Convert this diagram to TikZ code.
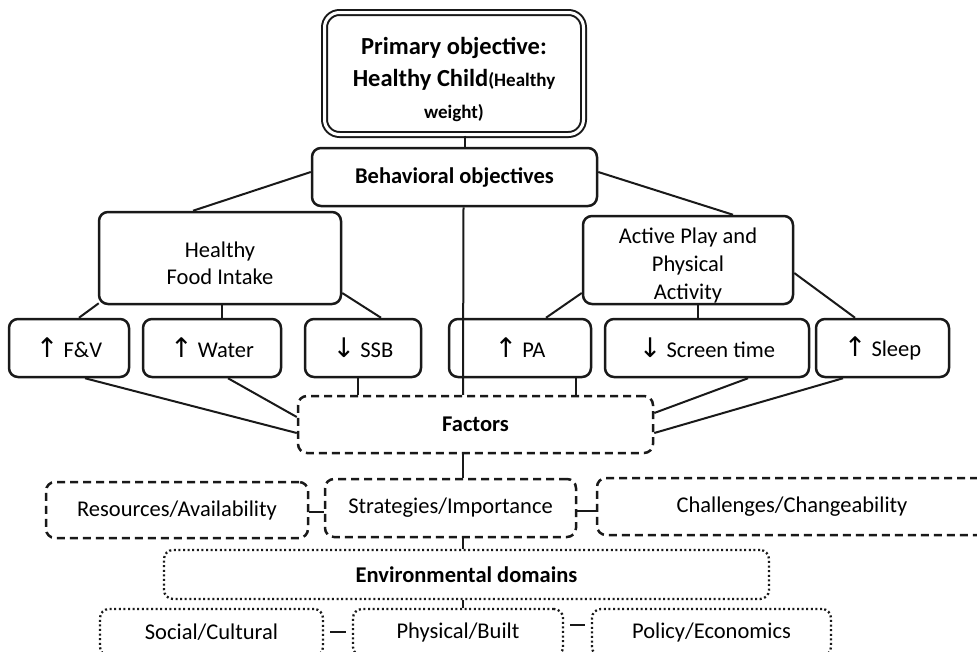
\documentclass[tikz,border=0pt]{standalone}
\usepackage{fontspec}
\setmainfont{Carlito}
\newfontfamily\arrowfont{DejaVu Sans}
\usetikzlibrary{calc}
\newcommand\myup{{\arrowfont\fontsize{27}{24}\selectfont ↑}}
\newcommand\mydown{{\arrowfont\fontsize{27}{24}\selectfont ↓}}
\tikzset{
  box/.style={draw=black!90, line width=2.5pt, rounded corners=9pt, inner sep=0pt, align=center,
    font=\fontsize{22.5}{27}\selectfont},
  dashbox/.style={box, dash pattern=on 8pt off 5pt},
  dotbox/.style={box, line width=2.3pt, dash pattern=on 2pt off 2.6pt},
  conn/.style={draw=black!90, line width=2pt},
  bold20/.style={font=\fontsize{22.5}{27}\selectfont\bfseries},
}
\begin{document}
\begin{tikzpicture}[x=1pt,y=-1pt]
\useasboundingbox (0,0) rectangle (977,651);
% primary
\node[box, double, double distance=3pt, line width=2pt, rounded corners=15pt,
  minimum width=259pt, minimum height=122pt,
  label={[name=primt, align=center, yshift=-6pt, font=\fontsize{24.5}{32}\selectfont\bfseries]center:{Primary objective:\\ Healthy Child{\fontsize{19}{28}\selectfont(Healthy}\\ {\fontsize{19}{20}\selectfont weight)}}}]
  (prim) at (454,73.5) {};
\node[box, bold20, minimum width=285pt, minimum height=58pt] (beh) at (454.5,177) {Behavioral objectives};
\node[box, minimum width=242pt, minimum height=92pt,
  label={[name=hfit, align=center, yshift=-5pt, font=\fontsize{22.5}{27}\selectfont]center:{Healthy\\ Food Intake}}]
  (hfi) at (220,258) {};
\node[box, minimum width=210pt, minimum height=88pt,
  label={[name=apat, align=center, yshift=-5pt, font=\fontsize{22.5}{28}\selectfont]center:{Active Play and\\ Physical\\ Activity}}]
  (apa) at (688,260) {};
% behaviours
\node[box, minimum width=120pt, minimum height=58pt] (fv) at (69,348) {\myup\ F\&V};
\node[box, minimum width=138pt, minimum height=58pt] (water) at (212,348) {\myup\ Water};
\node[box, minimum width=116pt, minimum height=58pt] (ssb) at (363,348) {\mydown\ SSB};
\node[box, minimum width=142pt, minimum height=58pt] (pa) at (520,348) {\myup\ PA};
\node[box, minimum width=204pt, minimum height=58pt] (screen) at (707,348) {\mydown\ Screen time};
\node[box, minimum width=133pt, minimum height=58pt] (sleep) at (882.5,348) {\myup\ Sleep};
% factors
\node[dashbox, bold20, minimum width=355pt, minimum height=57pt] (fac) at (475.5,424.5) {Factors};
\node[dashbox, minimum width=262pt, minimum height=56pt] (res) at (177,510) {Resources/Availability};
\node[dashbox, minimum width=251pt, minimum height=58pt] (strat) at (450.5,508) {Strategies/Importance};
\node[dashbox, minimum width=390pt, minimum height=57pt] (chal) at (792,506.5) {Challenges/Changeability};
% environment
\node[dotbox, bold20, minimum width=605pt, minimum height=49pt] (env) at (466.5,574.5) {Environmental domains};
\node[dotbox, minimum width=223pt, minimum height=47pt] (soc) at (211.5,632.5) {Social/Cultural};
\node[dotbox, minimum width=210pt, minimum height=47pt] (phys) at (458,632.5) {Physical/Built};
\node[dotbox, minimum width=239pt, minimum height=47pt] (pol) at (711.5,632.5) {Policy/Economics};
% connectors
\draw[conn] ([xshift=11pt]prim.south) -- ([xshift=10.5pt]beh.north);
\draw[conn] ([yshift=5pt]beh.west) -- ([xshift=-27pt]hfi.north);
\draw[conn] ([yshift=5pt]beh.east) -- ([xshift=45pt]apa.north);
\draw[conn] ([xshift=9pt]beh.south) -- ([xshift=-12.5pt]fac.north);
\draw[conn] ([xshift=1pt,yshift=2pt]hfi.south west) -- ([xshift=10pt]fv.north);
\draw[conn] ([xshift=2pt]hfi.south) -- ([xshift=10pt]water.north);
\draw[conn] ([yshift=-35pt]hfi.east) -- ([xshift=18pt]ssb.north);
\draw[conn] ([yshift=-33pt]apa.west) -- ([xshift=26pt]pa.north);
\draw[conn] ([xshift=10pt]apa.south) -- ([xshift=-9pt]screen.north);
\draw[conn] ([yshift=-13pt]apa.east) -- ([xshift=-27.5pt]sleep.north);
\draw[conn] ([xshift=16pt]fv.south) -- ([yshift=-8.5pt]fac.west);
\draw[conn] ([xshift=16pt]water.south) -- ([yshift=7.5pt]fac.west);
\draw[conn] ([xshift=-5pt]ssb.south) -- ([xshift=-117.5pt]fac.north);
\draw[conn] ([xshift=56pt]pa.south) -- ([xshift=100.5pt]fac.north);
\draw[conn] ([xshift=41pt]screen.south) -- ([yshift=11.5pt]fac.east);
\draw[conn] ([xshift=-39.5pt]sleep.south) -- ([yshift=-8.5pt]fac.east);
\draw[conn] ([xshift=-12.5pt]fac.south) -- ([xshift=12.5pt]strat.north);
\draw[conn] ([yshift=-2pt]res.east) -- ([yshift=-2pt]res.east -| strat.west);
\draw[conn] ([yshift=-3pt]strat.east) -- ([yshift=-3pt]strat.east -| chal.west);
\draw[conn] ([xshift=12.5pt]strat.south) -- ([xshift=-3.5pt]env.north);
\draw[conn] ([xshift=-3.5pt]env.south) -- ([xshift=5pt]phys.north);
\draw[conn, shorten <=6pt, shorten >=6pt] ([yshift=1pt]soc.east) -- ([yshift=1pt]soc.east -| phys.west);
\draw[conn, shorten <=6pt, shorten >=6pt] ([yshift=8pt]phys.east) -- ([yshift=8pt]phys.east -| pol.west);
\end{tikzpicture}
\end{document}
